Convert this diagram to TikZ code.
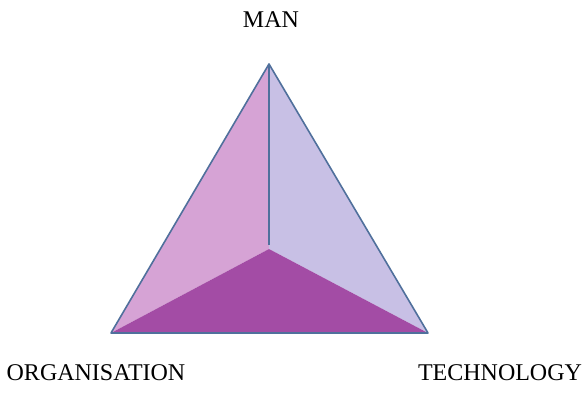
\documentclass[tikz,border=0pt]{standalone}
\usepackage{fontspec}
\setmainfont{Liberation Serif}
\usepackage{xcolor}
\usetikzlibrary{positioning}
\definecolor{facepink}{HTML}{D6A3D5}
\definecolor{facelav}{HTML}{C8C0E5}
\definecolor{facepurple}{HTML}{A34CA5}
\definecolor{edgeblue}{HTML}{50709C}

\begin{document}
\begin{tikzpicture}[
    x=0.5pt, y=-0.5pt,
    edge/.style={draw=edgeblue, line width=0.8pt, line join=round},
    corner/.style={font=\fontsize{12}{14}\selectfont, inner sep=0pt}
]
\useasboundingbox (0,0) rectangle (585,396);
% vertices of the pyramid
\coordinate (apex) at (269,64);
\coordinate (orgpt) at (111,333);
\coordinate (techpt) at (428,333);
\coordinate (hub) at (269,245);
\coordinate (dip) at (269,249);
% faces
\fill[facepink] (apex) -- (hub) -- (dip) -- (orgpt) -- cycle;
\fill[facelav] (apex) -- (techpt) -- (dip) -- (hub) -- cycle;
\fill[facepurple] (orgpt) -- (dip) -- (techpt) -- cycle;
% edges
\draw[edge] (apex) -- (orgpt) -- (techpt) -- cycle;
\draw[edge] (apex) -- (hub);
% labels
\node[corner] (man) at (271,20) {MAN};
\node[corner] (org) at (96,373) {ORGANISATION};
\node[corner] (tech) at (500,373) {TECHNOLOGY};
\end{tikzpicture}
\end{document}
